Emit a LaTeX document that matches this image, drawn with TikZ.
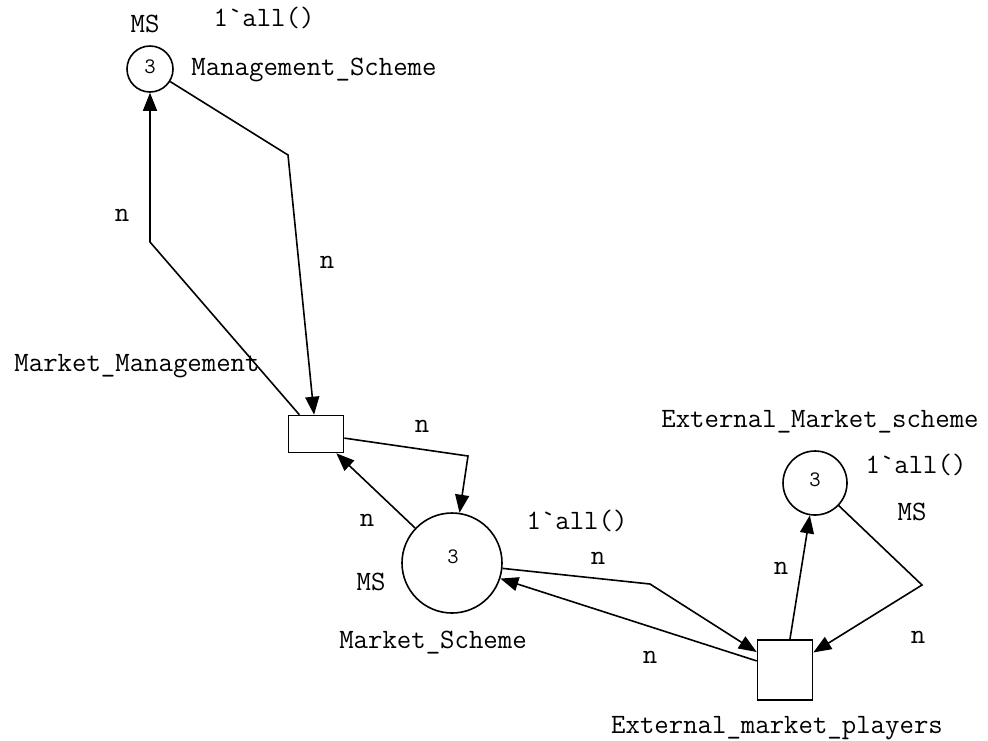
\documentclass[tikz,border=0pt]{standalone}
\usepackage{fontspec}
\usetikzlibrary{arrows.meta}
\begin{document}
\begin{tikzpicture}[x=0.5pt,y=-0.5pt,
  every node/.style={font=\ttfamily\fontsize{14}{16}\selectfont},
  place/.style={draw,circle,inner sep=0pt,line width=0.8pt},
  trans/.style={draw,rectangle,inner sep=0pt,line width=0.8pt},
  arc/.style={line width=0.8pt,-{Triangle[length=9pt,width=7pt]}},
  tok/.style={font=\ttfamily\fontsize{11}{12}\selectfont},
  lbl/.style={inner sep=0pt}]
\useasboundingbox (0,0) rectangle (988,740);
% places
\node[place,minimum size=23pt] (mgs) at (150,69) {};
\node[tok] (mgst) at (150,67) {3};
\node[place,minimum size=50pt] (msc) at (452,563) {};
\node[tok] (msct) at (453,557) {3};
\node[place,minimum size=32pt] (ems) at (815,483) {};
\node[tok] (emst) at (815,480) {3};
% transitions
\node[trans,minimum width=27.5pt,minimum height=18.5pt] (mm) at (316,434) {};
\node[trans,minimum width=27.5pt,minimum height=30pt] (emp) at (785,670) {};
% bend points
\coordinate (b1) at (288,155);
\coordinate (b2) at (150,242);
\coordinate (b3) at (468,456);
\coordinate (b4) at (650,584);
\coordinate (b5) at (922,585);
% arcs
\draw[arc] (mgs) -- (b1) -- (mm);
\draw[arc] (mm) -- (b2) -- (mgs);
\draw[arc] (mm) -- (b3) -- (msc);
\draw[arc] (msc) -- (mm);
\draw[arc] (msc) -- (b4) -- (emp);
\draw[arc] (emp) -- (msc);
\draw[arc] (emp) -- (ems);
\draw[arc] (ems) -- (b5) -- (emp);
% labels
\node[lbl] (l1) at (145,24) {MS};
\node[lbl] (l2) at (264,18) {1\textasciigrave all()};
\node[lbl] (l3) at (314,70) {Management\_Scheme};
\node[lbl] (l4) at (122,215) {n};
\node[lbl] (l5) at (327,262) {n};
\node[lbl] (l6) at (137,366) {Market\_Management};
\node[lbl] (l7) at (422,426) {n};
\node[lbl] (l8) at (367,520) {n};
\node[lbl] (l9) at (371,582) {MS};
\node[lbl] (l10) at (433,643) {Market\_Scheme};
\node[lbl] (l11) at (577,521) {1\textasciigrave all()};
\node[lbl] (l12) at (598,558) {n};
\node[lbl] (l13) at (650,657) {n};
\node[lbl] (l14) at (777,728) {External\_market\_players};
\node[lbl] (l15) at (781,568) {n};
\node[lbl] (l16) at (820,422) {External\_Market\_scheme};
\node[lbl] (l17) at (916,465) {1\textasciigrave all()};
\node[lbl] (l18) at (912,512) {MS};
\node[lbl] (l19) at (918,637) {n};
\end{tikzpicture}
\end{document}
